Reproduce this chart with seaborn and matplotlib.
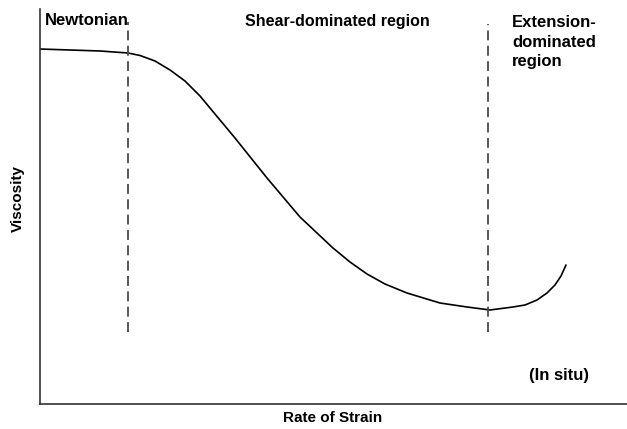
import matplotlib
matplotlib.use("Agg")
import matplotlib.pyplot as plt
import seaborn as sns
import pandas as pd

# Data (arbitrary units read from the schematic)
strain_rate = [0, 5.11, 10.22, 14.99, 17.04, 19.59, 22.15, 24.70, 27.26, 30.66,
               33.22, 38.67, 44.29, 49.91, 52.81, 55.71, 58.77, 62.52, 68.14,
               72.74, 76.66, 80.58, 82.62, 84.67, 86.37, 87.73, 88.76, 89.61]
viscosity = [89.87, 89.62, 89.37, 88.86, 88.23, 86.84, 84.56, 81.77, 77.97, 71.90,
             67.34, 57.22, 47.34, 39.49, 35.95, 32.91, 30.38, 28.10, 25.57,
             24.56, 23.80, 24.56, 25.06, 26.33, 28.10, 30.13, 32.41, 35.19]
boundaries = [15.0, 76.3]
boundary_top = [96.7, 96.2]
boundary_bottom = 18.2
region_labels = ["Newtonian", "Shear-dominated region", "Extension-\ndominated\nregion"]
note_label = "(In situ)"
x_label = "Rate of Strain"
y_label = "Viscosity"

sns.set_style("white")
plt.rcParams["font.family"] = ["Liberation Sans", "DejaVu Sans"]
plt.rcParams["text.color"] = "black"
plt.rcParams["axes.labelcolor"] = "black"

fig = plt.figure(figsize=(6.27, 4.29), dpi=100)
ax = fig.add_axes([40 / 627, 25 / 429, 587 / 627, 395 / 429])

df = pd.DataFrame({"x": strain_rate, "y": viscosity})
sns.lineplot(data=df, x="x", y="y", ax=ax, color="black", linewidth=1.2,
             sort=False, estimator=None)

for bx, bt in zip(boundaries, boundary_top):
    ax.plot([bx, bx], [boundary_bottom, bt], color="#4a4a4a", linewidth=1.3,
            linestyle=(0, (5.5, 3)))

ax.set_xlim(0, 100)
ax.set_ylim(0, 100)
ax.set_xticks([])
ax.set_yticks([])
sns.despine(ax=ax, top=True, right=True)
for s in ["left", "bottom"]:
    ax.spines[s].set_color("#333333")
    ax.spines[s].set_linewidth(1.2)

fs = 12
ax.text(0.85, 95.9, region_labels[0], fontsize=fs, fontweight="bold", va="baseline", ha="left")
ax.text(50.6, 95.7, region_labels[1], fontsize=11.5, fontweight="bold", va="baseline", ha="center")
ax.text(80.4, 98.4, region_labels[2], fontsize=fs, fontweight="bold", va="top", ha="left",
        linespacing=1.36)
ax.text(83.3, 7.1, note_label, fontsize=fs, fontweight="bold", va="center", ha="left")

ax.set_xlabel(x_label, fontsize=11, fontweight="bold")
ax.set_ylabel(y_label, fontsize=11, fontweight="bold")
ax.xaxis.set_label_coords((333 - 40) / 587, (404 - 418) / 395)
ax.yaxis.set_label_coords((18 - 40) / 587, (404 - 198) / 395)
ax.xaxis.label.set_va("center")
ax.yaxis.label.set_va("center")

fig.savefig("out.png", dpi=100)
